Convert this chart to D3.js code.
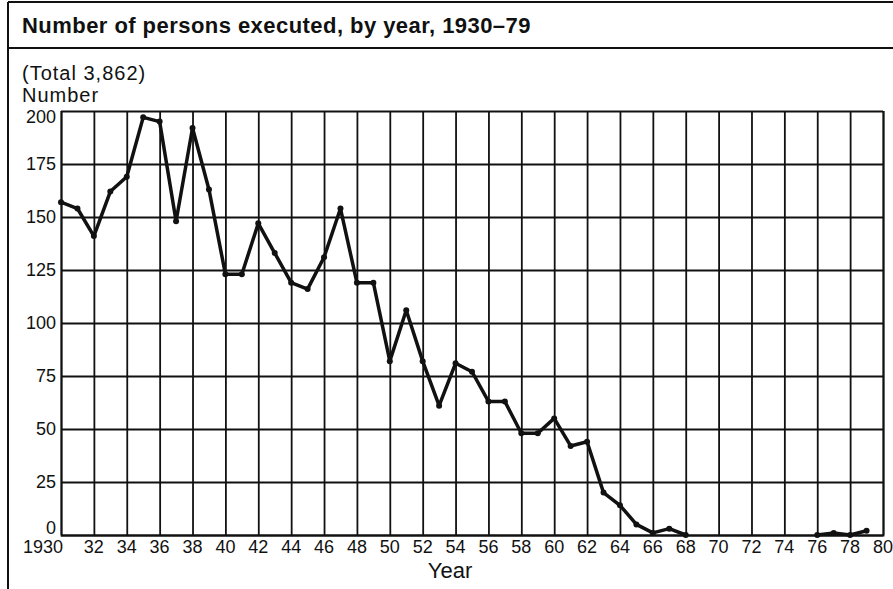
<!DOCTYPE html>
<html lang="en">
<head>
  <meta charset="UTF-8">
  <title>Number of persons executed, by year, 1930-79</title>
  <script src="https://d3js.org/d3.v7.min.js"></script>
  <style>
    body {
      margin: 0;
      background: #fff;
    }
    svg {
      display: block;
      font-family: "Liberation Sans", Arial, sans-serif;
    }
    .grid line, .grid path {
      stroke: #111;
      stroke-width: 1.8;
    }
    .tick-label {
      font-size: 18px;
      fill: #111;
    }
  </style>
</head>
<body>
  <svg width="893" height="589"></svg>

  <script>
    const years = [
      1930, 1931, 1932, 1933, 1934, 1935, 1936, 1937, 1938, 1939,
      1940, 1941, 1942, 1943, 1944, 1945, 1946, 1947, 1948, 1949,
      1950, 1951, 1952, 1953, 1954, 1955, 1956, 1957, 1958, 1959,
      1960, 1961, 1962, 1963, 1964, 1965, 1966, 1967, 1968, 1969,
      1970, 1971, 1972, 1973, 1974, 1975, 1976, 1977, 1978, 1979
    ];
    const executed = [
      157, 154, 141, 162, 169, 197, 195, 148, 192, 163,
      123, 123, 147, 133, 119, 116, 131, 154, 119, 119,
      82, 106, 82, 61, 81, 77, 63, 63, 48, 48,
      55, 42, 44, 20, 14, 5, 1, 3, 0, 0,
      0, 0, 0, 0, 0, 0, 0, 1, 0, 2
    ];
    const yTicks = [0, 25, 50, 75, 100, 125, 150, 175, 200];
    const xTicks = [1930, 1932, 1934, 1936, 1938, 1940, 1942, 1944, 1946, 1948,
      1950, 1952, 1954, 1956, 1958, 1960, 1962, 1964, 1966, 1968,
      1970, 1972, 1974, 1976, 1978, 1980];
    const xTickLabels = ['1930', '32', '34', '36', '38', '40', '42', '44', '46', '48',
      '50', '52', '54', '56', '58', '60', '62', '64', '66', '68',
      '70', '72', '74', '76', '78', '80'];

    const svg = d3.select('svg');
    const width = +svg.attr('width');

    const plot = { left: 61, right: 883, top: 111, bottom: 535 };

    const x = d3.scaleLinear().domain([1930, 1980]).range([plot.left, plot.right]);
    const y = d3.scaleLinear().domain([0, 200]).range([plot.bottom, plot.top]);

    // frame: top rule, rule under title, left edge
    svg.append('line').attr('x1', 8).attr('x2', width).attr('y1', 2).attr('y2', 2)
      .attr('stroke', '#111').attr('stroke-width', 2);
    svg.append('line').attr('x1', 8).attr('x2', width).attr('y1', 48).attr('y2', 48)
      .attr('stroke', '#111').attr('stroke-width', 2);
    svg.append('line').attr('x1', 8).attr('x2', 8).attr('y1', 2).attr('y2', 589)
      .attr('stroke', '#111').attr('stroke-width', 2);

    svg.append('text')
      .attr('x', 22).attr('y', 33)
      .attr('font-size', 22).attr('font-weight', 'bold')
      .attr('letter-spacing', 0.45).attr('fill', '#111')
      .text('Number of persons executed, by year, 1930\u201379');

    svg.append('text')
      .attr('x', 22).attr('y', 80)
      .attr('font-size', 20).attr('letter-spacing', 1).attr('fill', '#111')
      .text('(Total 3,862)');

    svg.append('text')
      .attr('x', 22).attr('y', 102)
      .attr('font-size', 20).attr('letter-spacing', 1).attr('fill', '#111')
      .text('Number');

    // gridlines
    const gx = svg.append('g')
      .attr('class', 'grid')
      .attr('transform', `translate(0,${plot.bottom})`)
      .call(d3.axisBottom(x).tickValues(xTicks).tickSize(-(plot.bottom - plot.top)).tickFormat(''));
    gx.select('.domain').attr('stroke-width', 2.5);

    const gy = svg.append('g')
      .attr('class', 'grid')
      .attr('transform', `translate(${plot.left},0)`)
      .call(d3.axisLeft(y).tickValues(yTicks).tickSize(-(plot.right - plot.left)).tickFormat(''));
    gy.selectAll('.domain').remove();

    // tick labels
    svg.append('g').selectAll('text')
      .data(xTicks)
      .join('text')
      .attr('class', 'tick-label')
      .attr('x', d => d === 1930 ? x(d) + 2 : x(d))
      .attr('y', 553)
      .attr('text-anchor', d => d === 1930 ? 'end' : 'middle')
      .text((d, i) => xTickLabels[i]);

    svg.append('g').selectAll('text')
      .data(yTicks)
      .join('text')
      .attr('class', 'tick-label')
      .attr('x', 56)
      .attr('y', d => d === 0 ? y(d) - 1 : d === 200 ? y(d) + 12 : y(d) + 6)
      .attr('text-anchor', 'end')
      .text(d => d);

    svg.append('text')
      .attr('x', 450)
      .attr('y', 578)
      .attr('text-anchor', 'middle')
      .attr('font-size', 22).attr('fill', '#111')
      .text('Year');

    // series
    const points = years.map((yr, i) => ({ year: yr, value: executed[i] }));

    const line = d3.line()
      .defined((d, i) => !(d.value === 0 &&
        (i > 0 && points[i - 1].value === 0) &&
        (i < points.length - 1 && points[i + 1].value === 0)))
      .x(d => x(d.year))
      .y(d => y(d.value));

    svg.append('path')
      .datum(points)
      .attr('fill', 'none')
      .attr('stroke', '#111')
      .attr('stroke-width', 3.5)
      .attr('stroke-linejoin', 'round')
      .attr('d', line);

    svg.append('g').selectAll('circle')
      .data(points.filter((d, i) => line.defined()(d, i)))
      .join('circle')
      .attr('cx', d => x(d.year))
      .attr('cy', d => y(d.value))
      .attr('r', 3)
      .attr('fill', '#111');
  </script>
</body>
</html>
